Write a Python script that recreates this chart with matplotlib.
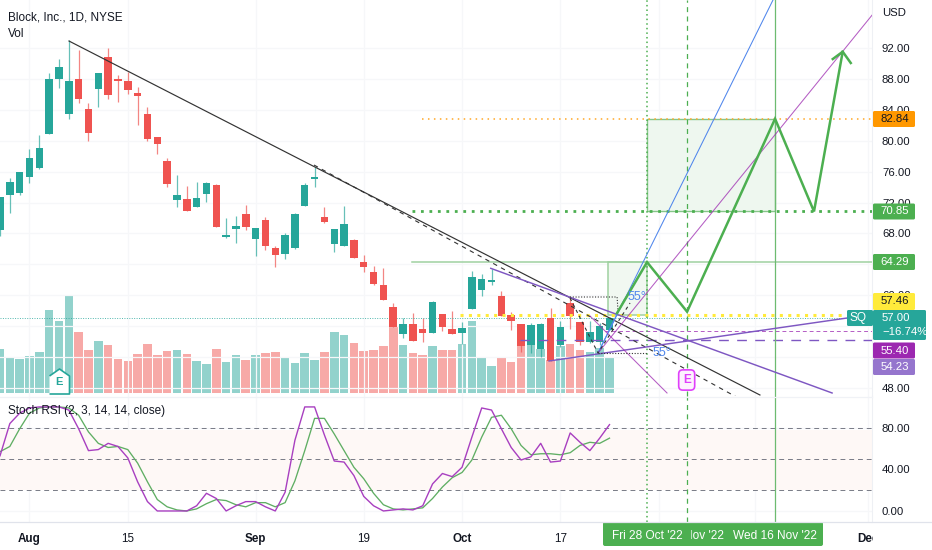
import numpy as np
import matplotlib
matplotlib.use("Agg")
import matplotlib.pyplot as plt
from matplotlib.patches import Rectangle, FancyBboxPatch
from matplotlib.transforms import Bbox, TransformedBbox

plt.rcParams['font.family'] = ['Liberation Sans', 'DejaVu Sans']

# ===============================
# DATA, first bar is index -3, Aug 1 is index 0
# ===============================

opens = [68.45, 72.98, 73.24, 75.31, 76.47, 80.87, 87.99, 83.46, 87.99, 84.10, 86.69, 90.83, 87.99, 87.73, 86.18, 83.46,
         80.48, 77.38, 72.33, 72.46, 71.42, 73.11, 74.27, 67.54, 68.58, 70.52, 67.28, 69.74, 66.12, 65.34, 66.12, 71.55,
         75.05, 70.13, 66.64, 66.38, 67.15, 64.31, 63.01, 61.33, 58.48, 54.99, 56.28, 55.64, 55.12, 57.58, 55.64, 55.12,
         58.22, 60.68, 61.72, 59.91, 57.45, 56.28, 53.57, 53.05, 57.06, 53.57, 59.00, 56.54, 53.95, 53.95, 55.51]
highs = [72.72, 75.18, 75.95, 78.93, 80.74, 88.76, 90.58, 93.03, 91.74, 84.88, 88.76, 92.00, 88.50, 88.89, 86.95, 84.36,
         80.48, 77.77, 75.56, 74.14, 74.66, 74.66, 74.40, 70.00, 70.26, 71.68, 68.71, 70.13, 66.38, 68.06, 70.65, 74.53,
         76.60, 71.42, 68.58, 71.55, 67.28, 65.21, 63.79, 63.53, 59.00, 57.06, 57.71, 57.06, 59.26, 57.58, 57.97, 56.54,
         63.14, 62.75, 63.40, 60.55, 57.84, 56.28, 56.41, 56.41, 58.35, 56.67, 59.78, 56.54, 56.67, 56.41, 57.19]
lows = [67.67, 70.65, 72.98, 74.53, 76.34, 80.87, 86.82, 82.81, 84.88, 79.96, 84.36, 85.40, 85.00, 86.05, 82.03, 79.96,
        78.28, 74.01, 71.42, 70.91, 71.42, 72.07, 68.84, 67.41, 66.77, 68.45, 65.08, 65.86, 63.66, 64.69, 65.99, 71.55,
        74.01, 69.35, 65.60, 66.38, 64.82, 63.01, 61.33, 59.39, 55.89, 54.47, 54.08, 53.95, 55.12, 55.38, 54.99, 53.70,
        58.22, 59.91, 61.33, 57.32, 55.51, 52.66, 52.53, 52.01, 51.49, 53.31, 55.64, 53.57, 53.83, 53.57, 55.51]
closes = [72.72, 74.66, 75.95, 77.77, 79.06, 87.99, 89.54, 87.73, 85.40, 81.00, 88.76, 85.92, 87.79, 86.56, 85.79, 80.22,
          79.58, 74.40, 72.98, 70.91, 72.59, 74.53, 68.84, 67.80, 68.97, 68.84, 68.71, 66.38, 65.21, 67.80, 70.52, 74.27,
          75.31, 69.48, 68.58, 69.22, 64.82, 63.66, 61.46, 59.39, 55.89, 56.28, 54.08, 55.12, 59.13, 55.89, 54.99, 55.77,
          62.37, 62.11, 61.98, 57.32, 56.67, 53.44, 56.15, 56.28, 51.49, 55.89, 57.32, 53.95, 55.25, 56.02, 57.06]
volumes = [44, 36, 34, 37, 41, 83, 72, 98, 61, 43, 52, 48, 34, 32, 39, 49, 38, 42, 43, 39, 32, 29, 44, 31, 38, 33, 38,
           40, 41, 35, 30, 40, 33, 41, 61, 58, 50, 42, 43, 47, 67, 48, 40, 38, 47, 43, 43, 49, 72, 35, 27, 36, 31, 48,
           48, 44, 33, 47, 49, 43, 41, 45, 35]
stoch_k = [53, 84, 94, 99, 100, 100, 100, 97, 79, 58, 59, 65, 62, 51, 28, 9, 0, 0, 0, 0, 5, 17, 12, 0, 5, 9, 9, 4, 0,
           18, 68, 100, 100, 73, 48, 47, 34, 14, 5, 0, 1, 2, 1, 5, 26, 36, 33, 42, 71, 99, 97, 79, 61, 49, 52, 65, 47,
           48, 75, 66, 58, 70, 83]
stoch_d = [57, 62, 79, 94, 99, 100, 100, 99, 92, 76, 65, 61, 62, 59, 46, 28, 11, 4, 1, 0, 2, 7, 11, 10, 6, 4, 8, 8, 4,
           8, 29, 58, 89, 89, 74, 58, 42, 31, 17, 6, 2, 1, 2, 3, 12, 23, 32, 37, 49, 71, 90, 92, 79, 63, 54, 55, 55, 54,
           56, 63, 66, 65, 70]

price_ticks = [48, 52, 56, 60, 64, 68, 72, 76, 80, 84, 88, 92]
hidden_prices = [52, 56, 64]  # these sit fully behind the price tags
stoch_ticks = [0, 40, 80]
time_ticks = [0, 10, 23, 34, 44, 54, 64, 73.8, 85.3]
time_labels = ['Aug', '15', 'Sep', '19', 'Oct', '17', '', '', 'Dec']
bold_labels = ['Aug', 'Sep', 'Oct', 'Dec']

# drawings, (bar index, price)
wave_x = [59.77, 62.82, 66.89, 75.84, 79.80, 82.72]
wave_y = [57.71, 64.29, 57.88, 82.84, 70.85, 91.52]

GREEN = '#26a69a'
RED = '#ef5350'
VOL_GREEN = '#92d2cc'
VOL_RED = '#f7a9a7'
LINE_GREEN = '#4caf50'
PURPLE = '#7e57c2'
MAGENTA = '#9c27b0'
BLUE = '#4f86ec'
TEXT = '#131722'
GRID = '#f6f7f9'

# ===============================
# FIGURE LAYOUT
# ===============================

W, H = 932, 550
fig = plt.figure(figsize=(W / 100, H / 100), dpi=100, facecolor='white')


def panel(top, bottom):
    return [0, 1 - bottom / H, 872 / W, (bottom - top) / H]


ax = fig.add_axes(panel(0, 396))
vol_ax = ax.twinx()
rsi = fig.add_axes(panel(396, 522), sharex=ax)
ax.set_zorder(vol_ax.get_zorder() + 1)
ax.patch.set_visible(False)

idx = np.arange(len(opens)) - 3
opens = np.array(opens)
closes = np.array(closes)
up = closes >= opens

ax.set_xlim(-3.0, 85.7)
ax.set_ylim(46.97, 98.21)
vol_ax.set_ylim(-3, 393)
rsi.set_ylim(-10.6, 110.5)

# grid
for t in time_ticks:
    ax.axvline(t, color=GRID, lw=0.9, zorder=0)
    rsi.axvline(t, color=GRID, lw=0.9, zorder=0)
for p in price_ticks:
    ax.axhline(p, color=GRID, lw=0.9, zorder=0)
for s in stoch_ticks:
    rsi.axhline(s, color=GRID, lw=0.9, zorder=0)

# volume
vol_ax.bar(idx, volumes, width=0.87, color=[VOL_GREEN if u else VOL_RED for u in up])
vol_ax.set_yticks([])

# candles
colors = [GREEN if u else RED for u in up]
ax.vlines(idx, lows, highs, colors=colors, lw=0.9, alpha=0.7, zorder=2)
body_low = np.minimum(opens, closes)
body_h = np.maximum(np.abs(closes - opens), 0.25)
ax.bar(idx, body_h, bottom=body_low, width=0.76, color=colors, zorder=3)

# ===============================
# DRAWINGS
# ===============================

ax.axhline(57.00, color=GREEN, lw=0.7, ls=(0, (1, 1.5)), alpha=0.8, zorder=2)

# boxes
ax.add_patch(Rectangle((58.85, 57.46), 62.82 - 58.85, 64.29 - 57.46, fc='#f1f8f1', ec='#9fd1a1', lw=1.1, zorder=1.5))
ax.add_patch(Rectangle((62.82, 70.85), 75.84 - 62.82, 82.84 - 70.85, fc='#eef7ef', ec='#86c689', lw=1.0, zorder=1.5))

# level lines
ax.plot([38.9, 85.7], [64.29, 64.29], color='#9fd1a1', lw=1.1, zorder=4)
ax.plot([38.9, 85.7], [70.85, 70.85], color=LINE_GREEN, lw=2.0, ls=(0, (1, 2.05)), zorder=4)
ax.plot([39.9, 85.7], [82.84, 82.84], color='#ffa726', lw=1.1, ls=(0, (1, 2.9)), zorder=4)
ax.plot([43.8, 85.7], [57.46, 57.46], color='#ffeb3b', lw=2.2, ls=(0, (1, 1.75)), zorder=4)
ax.plot([49.9, 85.7], [54.23, 54.23], color=PURPLE, lw=1.0, ls=(0, (7, 6)), zorder=4)
ax.plot([58.5, 85.7], [55.40, 55.40], color=MAGENTA, lw=0.7, ls=(0, (4, 3)), alpha=0.75, zorder=4)

# trend lines
ax.plot([4.02, 74.3], [92.9, 47.1], color='#333333', lw=0.85, zorder=5)
ax.plot([28.94, 72.28], [76.86, 46.58], color='#333333', lw=0.8, ls=(0, (4, 4)), zorder=5)
ax.plot([46.92, 81.64], [63.49, 47.36], color=PURPLE, lw=1.05, zorder=5)
ax.plot([52.85, 83.16], [51.5, 57.06], color=PURPLE, lw=1.05, zorder=5)
ax.plot([57.83, 75.63], [52.53, 98.21], color=BLUE, lw=0.75, zorder=5)
ax.plot([57.83, 60.47], [52.53, 59.39], color=BLUE, lw=0.75, zorder=5)
ax.plot([57.83, 85.8], [52.53, 96.4], color=MAGENTA, lw=0.75, alpha=0.75, zorder=5)
ax.plot([57.02, 64.85], [57.32, 47.36], color=MAGENTA, lw=0.75, alpha=0.75, zorder=5)
ax.plot([54.98, 59.77, 59.87], [59.78, 59.78, 57.84], color='#333333', lw=0.8, ls=(0, (1, 1.5)), zorder=5)
ax.plot([57.83, 62.82], [52.53, 52.53], color='#333333', lw=0.8, ls=(0, (1, 1.5)), zorder=5)
ax.plot([54.98, 57.83, 61.09], [59.65, 52.53, 59.0], color='#333333', lw=0.8, ls=(0, (3, 3)), zorder=5)

# projected path with arrow head
ax.plot(wave_x, wave_y, color=LINE_GREEN, lw=1.8, zorder=6, solid_joinstyle='miter')
ax.plot([81.71, 82.72, 83.54], [90.57, 91.52, 90.06], color=LINE_GREEN, lw=1.8, zorder=6)

ax.text(61.8, 59.78, '55°', color=BLUE, fontsize=9, ha='center', va='center', zorder=7)
ax.text(64.34, 52.53, '55°', color=BLUE, fontsize=9, ha='center', va='center', zorder=7)

# time lines across both panes
for a in (ax, rsi):
    a.axvline(62.82, color=LINE_GREEN, lw=1.1, ls=(0, (1, 2)), zorder=4)
    a.axvline(66.85, color=LINE_GREEN, lw=0.9, ls=(0, (4, 3.5)), zorder=4)
    a.axvline(75.84, color='#6dbb70', lw=0.9, zorder=4)

# earnings markers
house = [(-1, -1.25), (1, -1.25), (1, 0.55), (0, 1.25), (-1, 0.55)]
ax.plot([3], [48.9], marker=house, ms=18, mfc='white', mec=GREEN, mew=1.2, zorder=7)
ax.text(3, 48.75, 'E', color=GREEN, fontsize=8, fontweight='bold', ha='center', va='center', zorder=8)
ax.text(66.85, 49.04, 'E', color='#e040fb', fontsize=8.5, fontweight='bold', ha='center', va='center', zorder=8,
        bbox=dict(boxstyle='round,pad=0.35', fc='#fdf2fe', ec='#e040fb', lw=1.2))

# ===============================
# STOCH RSI
# ===============================

rsi.axhspan(20, 78, color='#fef8f6', lw=0, zorder=0.5)
for level in (80, 50, 20):
    rsi.axhline(level, color='#787b86', lw=0.7, ls=(0, (5, 4)), zorder=2)
rsi.plot(idx, stoch_d, color='#5fae63', lw=0.95, zorder=3)
rsi.plot(idx, stoch_k, color='#a83fc0', lw=1.0, zorder=3)

# ===============================
# AXES
# ===============================

for a in (ax, vol_ax, rsi):
    for s in a.spines.values():
        s.set_visible(False)
ax.spines['right'].set_visible(True)
ax.spines['right'].set_color('#eef0f4')
rsi.spines['right'].set_visible(True)
rsi.spines['right'].set_color('#eef0f4')

ax.yaxis.tick_right()
ax.set_yticks(price_ticks)
ax.set_yticklabels(['' if p in hidden_prices else f'{p:.2f}' for p in price_ticks])
ax.tick_params(axis='y', length=0, pad=7.2, labelsize=8.2, labelcolor=TEXT)
ax.tick_params(axis='x', length=0, labelbottom=False)

rsi.yaxis.tick_right()
rsi.set_yticks(stoch_ticks)
rsi.set_yticklabels([f'{s:.2f}' for s in stoch_ticks])
rsi.tick_params(axis='y', length=0, pad=7.2, labelsize=8.2, labelcolor=TEXT)
rsi.set_xticks(time_ticks)
rsi.set_xticklabels(time_labels)
rsi.tick_params(axis='x', length=0, pad=8, labelsize=8.4, labelcolor=TEXT)
for lab in rsi.get_xticklabels():
    if lab.get_text() in bold_labels:
        lab.set_fontweight('bold')

# overlay in pixels for the labels around the panes
over = fig.add_axes([0, 0, 1, 1], zorder=20)
over.set_xlim(0, W)
over.set_ylim(H, 0)
over.axis('off')
over.patch.set_visible(False)

over.plot([0, W], [522, 522], color='#e0e3eb', lw=0.9)
over.plot([0, 872], [396.5, 396.5], color='#f0f2f6', lw=0.9)
over.add_patch(Rectangle((873, 523), 59, 27, fc='white', ec='none'))

over.text(7.5, 17, 'Block, Inc., 1D, NYSE', fontsize=8.5, color=TEXT, va='center')
over.text(7.5, 34, 'Vol', fontsize=8.5, color=TEXT, va='center')
over.text(7.5, 411, 'Stoch RSI (2, 3, 14, 14, close)', fontsize=8.5, color=TEXT, va='center')
over.text(882, 13, 'USD', fontsize=8.2, color=TEXT, va='center')

# price tags
tags = [('82.84', 119, 16, '#ff9800', TEXT), ('70.85', 211.5, 16, LINE_GREEN, 'white'),
        ('64.29', 262, 16, LINE_GREEN, 'white'), ('57.46', 301.5, 17, '#ffeb3b', TEXT),
        ('55.40', 350.5, 16, MAGENTA, 'white'), ('54.23', 367, 16, '#9575cd', 'white')]
for label, yc, hh, bg, fg in tags:
    over.add_patch(FancyBboxPatch((873, yc - hh / 2), 42, hh, boxstyle='round,pad=0,rounding_size=1.5', fc=bg, ec='none'))
    over.text(895, yc, label, fontsize=8.2, color=fg, ha='center', va='center')

over.add_patch(FancyBboxPatch((873, 310), 53, 30, boxstyle='round,pad=0,rounding_size=1.5', fc=GREEN, ec='none'))
over.text(882, 318, '57.00', fontsize=8.2, color='white', va='center')
over.text(882, 332, '\u221216.74%', fontsize=8.2, color='white', va='center')
over.add_patch(FancyBboxPatch((847, 310), 26, 16, boxstyle='round,pad=0,rounding_size=1.5', fc=GREEN, ec='none'))
over.text(858, 318, 'SQ', fontsize=8.6, color='white', ha='center', va='center')

# time tag, the middle date is partly hidden by the first one
over.add_patch(FancyBboxPatch((603, 522), 220, 24, boxstyle='round,pad=0,rounding_size=2', fc=LINE_GREEN, ec='none'))
nov = over.text(724, 536, "Nov '22", fontsize=8.6, color='white', ha='right', va='center')
nov.set_clip_box(TransformedBbox(Bbox([[691, 522], [730, 546]]), over.transData))
nov.set_clip_on(True)
over.text(647, 536, "Fri 28 Oct '22", fontsize=8.6, color='white', ha='center', va='center')
over.text(775, 536, "Wed 16 Nov '22", fontsize=8.6, color='white', ha='center', va='center')

fig.savefig('out.png', dpi=100)
plt.close(fig)
